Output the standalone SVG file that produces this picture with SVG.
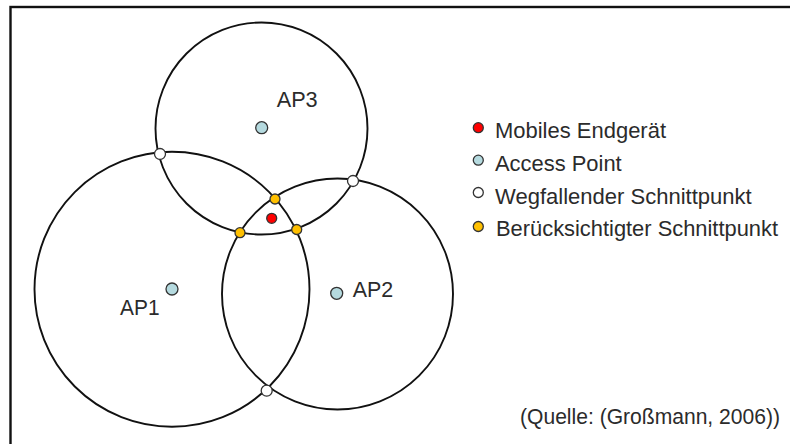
<svg xmlns="http://www.w3.org/2000/svg" width="790" height="444" viewBox="0 0 790 444">
  <style>
    .range { fill: none; stroke: #111; stroke-width: 1.9; }
    .dot { stroke: #333; stroke-width: 1.3; }
    .ap { fill: #b5dadf; }
    .drop { fill: #ffffff; }
    .keep { fill: #ffc000; }
    .mobile { fill: #ff0000; }
    .label { font-family: "Liberation Sans", Arial, sans-serif; font-size: 21.5px; fill: #2b2b2b; }
  </style>

  <rect x="0" y="0" width="790" height="444" fill="#ffffff"/>
  <!-- frame: only top and left edges lie inside the canvas -->
  <rect id="frame" x="10.5" y="7" width="800" height="460" fill="none" stroke="#111" stroke-width="2.4"/>

  <!-- coverage ranges of the access points -->
  <g id="connectors">
    <circle class="range" cx="172" cy="289.3" r="137.5"/>
    <circle class="range" cx="337.5" cy="294" r="115.5"/>
    <circle class="range" cx="261.5" cy="128.5" r="106"/>
  </g>

  <g id="ap1">
    <circle class="dot ap" cx="172" cy="289" r="6"/>
    <text class="label" x="120" y="315" textLength="39.5" lengthAdjust="spacingAndGlyphs">AP1</text>
  </g>
  <g id="ap2">
    <circle class="dot ap" cx="336.7" cy="293.3" r="6"/>
    <text class="label" x="352.7" y="297.3" textLength="40.5" lengthAdjust="spacingAndGlyphs">AP2</text>
  </g>
  <g id="ap3">
    <circle class="dot ap" cx="261.7" cy="127.7" r="6"/>
    <text class="label" x="276.7" y="107.3" textLength="41" lengthAdjust="spacingAndGlyphs">AP3</text>
  </g>

  <!-- discarded intersections -->
  <g id="drop-ap1-ap3"><circle class="dot drop" cx="160" cy="154" r="5.5"/></g>
  <g id="drop-ap2-ap3"><circle class="dot drop" cx="353" cy="181" r="5.5"/></g>
  <g id="drop-ap1-ap2"><circle class="dot drop" cx="266.7" cy="390.7" r="5.5"/></g>

  <!-- intersections that are used -->
  <g id="keep-ap1-ap2"><circle class="dot keep" cx="275" cy="199" r="5"/></g>
  <g id="keep-ap2-ap3"><circle class="dot keep" cx="240" cy="232.7" r="5"/></g>
  <g id="keep-ap1-ap3"><circle class="dot keep" cx="296.7" cy="229.5" r="5"/></g>

  <g id="mobile"><circle class="dot mobile" cx="271.7" cy="218.3" r="5"/></g>

  <!-- legend -->
  <g id="legend-mobile">
    <circle class="dot mobile" cx="478.3" cy="127.7" r="5"/>
    <text class="label" x="495" y="137.7" textLength="171" lengthAdjust="spacingAndGlyphs">Mobiles Endgerät</text>
  </g>
  <g id="legend-ap">
    <circle class="dot ap" cx="478.3" cy="160.2" r="5"/>
    <text class="label" x="495" y="170.7" textLength="126.7" lengthAdjust="spacingAndGlyphs">Access Point</text>
  </g>
  <g id="legend-drop">
    <circle class="dot drop" cx="478.3" cy="192.5" r="5"/>
    <text class="label" x="495" y="204" textLength="256.7" lengthAdjust="spacingAndGlyphs">Wegfallender Schnittpunkt</text>
  </g>
  <g id="legend-keep">
    <circle class="dot keep" cx="478.3" cy="226.5" r="5"/>
    <text class="label" x="496" y="235.5" textLength="282" lengthAdjust="spacingAndGlyphs">Berücksichtigter Schnittpunkt</text>
  </g>

  <g id="source">
    <text class="label" x="520" y="424" textLength="260" lengthAdjust="spacingAndGlyphs">(Quelle: (Großmann, 2006))</text>
  </g>
</svg>
